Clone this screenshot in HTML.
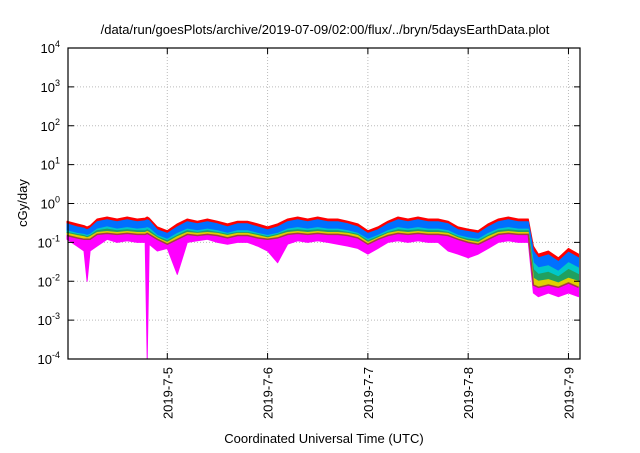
<!DOCTYPE html>
<html><head><meta charset="utf-8"><style>
body{margin:0;background:#fff;font-family:"Liberation Sans",sans-serif}
svg text{font-family:"Liberation Sans",sans-serif;fill:#000}
</style></head><body>
<svg id="c" width="640" height="448">
<text x="325" y="34" font-size="13" text-anchor="middle">/data/run/goesPlots/archive/2019-07-09/02:00/flux/../bryn/5daysEarthData.plot</text>
<text x="0" y="0" font-size="13" text-anchor="middle" transform="translate(27,203) rotate(-90)">cGy/day</text>
<text x="324" y="443" font-size="13" text-anchor="middle">Coordinated Universal Time (UTC)</text>
<g id="grid"></g><g id="series"></g><g id="axes"></g>
</svg>
<script>
const times=[4.0,4.1,4.17,4.2,4.23,4.3,4.4,4.5,4.6,4.7,4.78,4.8,4.82,4.9,5.0,5.1,5.2,5.3,5.4,5.5,5.6,5.7,5.8,5.9,6.0,6.1,6.2,6.3,6.4,6.5,6.6,6.7,6.8,6.9,7.0,7.1,7.2,7.3,7.4,7.5,7.6,7.7,7.8,7.9,8.0,8.1,8.2,8.3,8.4,8.5,8.6,8.65,8.7,8.8,8.9,9.0,9.1];
const red=[.35,.3,.27,.25,.27,.4,.45,.4,.45,.4,.42,.45,.42,.25,.2,.3,.4,.35,.4,.35,.3,.35,.35,.3,.25,.3,.4,.45,.4,.45,.4,.4,.35,.3,.2,.25,.35,.45,.4,.45,.4,.4,.35,.25,.22,.2,.3,.4,.45,.4,.4,.08,.05,.06,.04,.07,.05];
const blue=[.3,.25,.23,.21,.23,.34,.38,.34,.38,.34,.36,.38,.36,.21,.17,.25,.34,.3,.34,.3,.25,.3,.3,.25,.21,.25,.34,.38,.34,.38,.34,.34,.3,.25,.17,.21,.3,.38,.34,.38,.34,.34,.3,.21,.19,.17,.25,.34,.38,.34,.34,.06,.04,.048,.032,.056,.04];
const cyan=[.2,.17,.16,.15,.16,.22,.25,.22,.24,.22,.23,.24,.23,.15,.12,.17,.22,.2,.22,.2,.17,.2,.2,.17,.15,.17,.22,.24,.22,.24,.22,.22,.2,.17,.12,.15,.2,.24,.22,.24,.22,.22,.2,.15,.13,.12,.17,.22,.24,.22,.22,.03,.022,.025,.018,.03,.022];
const green=[.18,.16,.15,.14,.15,.2,.22,.2,.21,.2,.2,.21,.2,.14,.11,.15,.2,.18,.2,.18,.16,.18,.18,.16,.14,.16,.2,.21,.2,.21,.2,.2,.18,.16,.11,.14,.18,.21,.2,.21,.2,.2,.18,.14,.12,.11,.15,.2,.21,.2,.2,.02,.015,.017,.013,.02,.015];
const yellow=[.17,.15,.14,.13,.14,.18,.19,.18,.19,.18,.18,.19,.18,.13,.1,.14,.18,.17,.18,.17,.15,.17,.17,.15,.13,.15,.18,.19,.18,.19,.18,.18,.17,.15,.1,.13,.17,.19,.18,.19,.18,.18,.17,.13,.11,.1,.14,.18,.19,.18,.18,.012,.01,.011,.009,.012,.01];
const brown=[.15,.13,.12,.12,.12,.16,.17,.16,.17,.16,.16,.17,.16,.12,.09,.12,.16,.15,.16,.15,.13,.15,.15,.13,.12,.13,.16,.17,.16,.17,.16,.16,.15,.13,.09,.12,.15,.17,.16,.17,.16,.16,.15,.12,.1,.09,.12,.16,.17,.16,.16,.008,.007,.008,.007,.009,.007];
const magenta=[.12,.08,.06,.01,.06,.08,.12,.1,.11,.1,.1,.0001,.09,.06,.07,.015,.1,.11,.12,.1,.09,.1,.1,.08,.06,.03,.09,.11,.1,.11,.1,.09,.08,.07,.05,.07,.1,.11,.1,.11,.1,.1,.06,.05,.04,.05,.07,.1,.11,.1,.1,.005,.004,.005,.004,.005,.004];
const yTicks=[-4,-3,-2,-1,0,1,2,3,4];
const xTicks=[5,6,7,8,9];
const xLabels=["2019-7-5","2019-7-6","2019-7-7","2019-7-8","2019-7-9"];
const L=68,R=580,T=48,B=359,x0=4.01,x1=9.115;
const X=t=>L+(t-x0)/(x1-x0)*(R-L);
const Y=v=>{let l=Math.log10(Math.max(v,1e-4));return B-(l+4)/8*(B-T);};
const NS="http://www.w3.org/2000/svg";
function mk(tag,attrs,parent){const e=document.createElementNS(NS,tag);for(const k in attrs)e.setAttribute(k,attrs[k]);parent.appendChild(e);return e;}
const grid=document.getElementById('grid'),axes=document.getElementById('axes'),ser=document.getElementById('series');
yTicks.forEach(p=>{const y=Y(Math.pow(10,p));
 if(p>-4&&p<4){const g=mk('line',{x1:L,x2:R,y1:y,y2:y,stroke:'#bbb','stroke-dasharray':'1,2'},grid);}
 const t1=mk('line',{x1:L,x2:L+6,y1:y,y2:y,stroke:'#000'},axes);
 mk('line',{x1:R-6,x2:R,y1:y,y2:y,stroke:'#000'},axes);
 const tx=mk('text',{x:L-8,y:y+5,'font-size':13,'text-anchor':'end'},axes);
 
 tx.innerHTML='10<tspan dy="-6" font-size="9">'+p+'</tspan>';});
xTicks.forEach((d,i)=>{const x=X(d);
 const g=mk('line',{x1:x,x2:x,y1:T,y2:B,stroke:'#bbb','stroke-dasharray':'1,2'},grid);
 mk('line',{x1:x,x2:x,y1:B,y2:B-6,stroke:'#000'},axes);mk('line',{x1:x,x2:x,y1:T,y2:T+6,stroke:'#000'},axes);
 const tx=mk('text',{x:0,y:0,'font-size':13,'text-anchor':'end',transform:`translate(${x+5},${B+8}) rotate(-90)`},axes);
 tx.textContent=xLabels[i];});
const fr=mk('rect',{x:L,y:T,width:R-L,height:B-T,fill:'none',stroke:'#000','stroke-width':1.2},axes);

function band(top,bot,color,name){
 let d='M'+times.map((t,i)=>X(t).toFixed(1)+','+Y(top[i]).toFixed(1)).join('L');
 for(let i=times.length-1;i>=0;i--)d+='L'+X(times[i]).toFixed(1)+','+Y(bot[i]).toFixed(1);
 const p=mk('path',{d:d+'Z',fill:color,stroke:color,'stroke-width':1,'stroke-linejoin':'round'},ser);
 }
band(red,blue,'#ff0000','series-red');
band(blue,cyan,'#0070ff','series-blue');
band(cyan,green,'#00c8c8','series-cyan');
band(green,yellow,'#20a060','series-green');
band(yellow,brown,'#e0d000','series-yellow');
band(brown,magenta,'#ff00ff','series-magenta');
const bl=mk('path',{d:'M'+times.map((t,i)=>X(t).toFixed(1)+','+Y(brown[i]).toFixed(1)).join('L'),fill:'none',stroke:'#a04040','stroke-width':1.5},ser);

</script>
</body></html>
